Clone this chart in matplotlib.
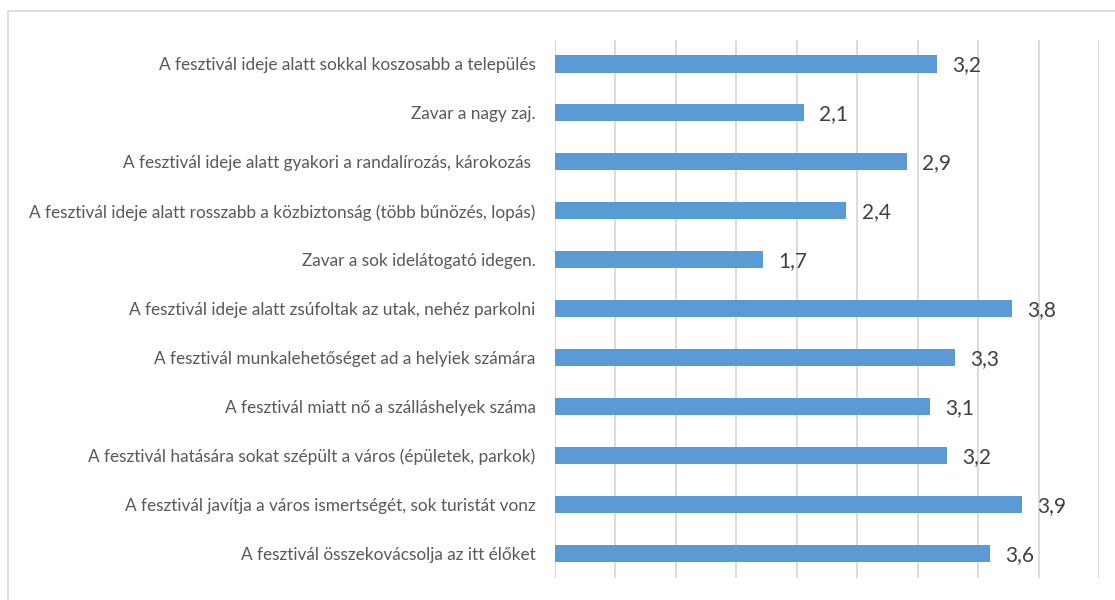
import matplotlib
matplotlib.use("Agg")
import matplotlib.pyplot as plt
from matplotlib.patches import Rectangle

# kategóriák felülről lefelé
kategoriak = [
    "A fesztivál ideje alatt sokkal koszosabb a település",
    "Zavar a nagy zaj.",
    "A fesztivál ideje alatt gyakori a randalírozás, károkozás ",
    "A fesztivál ideje alatt rosszabb a közbiztonság (több bűnözés, lopás)",
    "Zavar a sok idelátogató idegen.",
    "A fesztivál ideje alatt zsúfoltak az utak, nehéz parkolni",
    "A fesztivál munkalehetőséget ad a helyiek számára",
    "A fesztivál miatt nő a szálláshelyek száma",
    "A fesztivál hatására sokat szépült a város (épületek, parkok)",
    "A fesztivál javítja a város ismertségét, sok turistát vonz",
    "A fesztivál összekovácsolja az itt élőket",
]
ertekek = [3.16, 2.06, 2.91, 2.41, 1.72, 3.78, 3.31, 3.10, 3.24, 3.86, 3.60]

plt.rcParams["font.family"] = ["Lato", "DejaVu Sans"]

fig = plt.figure(figsize=(11.15, 6), dpi=100)
ax = fig.add_axes([555 / 1115, 1 - 578 / 600, (1099 - 555) / 1115, (578 - 39.5) / 600])

y = list(range(len(kategoriak)))[::-1]
ax.barh(y, ertekek, height=0.35, color="#5B9BD5", zorder=3)

for yi, v in zip(y, ertekek):
    ax.annotate(f"{v:.1f}".replace(".", ","), (v, yi), xytext=(11, -1),
                textcoords="offset points", va="center", ha="left",
                fontsize=15, color="#404040")

ax.set_xlim(0, 4.5)
ax.set_ylim(-0.5, len(kategoriak) - 0.5)
ax.set_xticks([i * 0.5 for i in range(10)])
ax.set_xticklabels([])
ax.set_yticks(y)
ax.set_yticklabels(kategoriak, fontsize=12.4, color="#595959")
ax.tick_params(axis="both", length=0, pad=14)
ax.grid(axis="x", color="#D9D9D9", linewidth=1.3, zorder=0)
for s in ax.spines.values():
    s.set_visible(False)

# keret a diagram körül
fig.patches.append(Rectangle((8 / 1115, -0.1), 1.2, 1.1 - 11 / 600, transform=fig.transFigure,
                             fill=False, edgecolor="#D9D9D9", linewidth=1.2))

fig.savefig("out.png", dpi=100)
